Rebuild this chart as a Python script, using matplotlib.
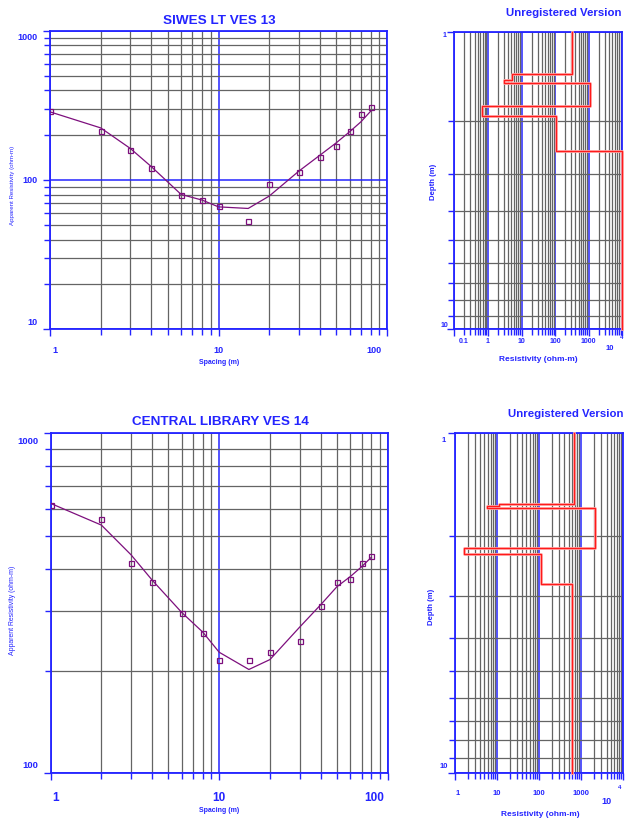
import numpy as np
import matplotlib
matplotlib.use("Agg")
import matplotlib.pyplot as plt
from matplotlib.ticker import LogLocator, NullFormatter
from matplotlib.transforms import blended_transform_factory, ScaledTranslation

# ---------------- data ----------------
spacing = [1, 2, 3, 4, 6, 8, 10, 15, 20, 30, 40, 50, 60, 70, 80]

ves13_obs = [290, 212, 160, 120, 80, 73.5, 67, 53, 94.5, 114, 143, 169, 213, 278, 308]
ves13_fit = [287, 224, 163, 123, 80.2, 73.5, 66.2, 64.6, 78.2, 115, 147, 178, 211, 246, 290]

ves14_obs = [615, 558, 415, 366, 296, 258, 215, 215, 227, 245, 310, 366, 374, 415, 437]
ves14_fit = [622, 537, 439, 370, 297, 260, 227, 202, 216, 269, 313, 354, 379, 405, 432]

# layered models (resistivity of each layer, depth of each layer bottom)
ves13_rho = [322, 5.2, 3.07, 1083, 0.69, 110, 10000]
ves13_depth = [1.39, 1.45, 1.49, 1.78, 1.92, 2.51]
ves14_rho = [657, 11.2, 5.78, 2115, 1.64, 113.7, 589]
ves14_depth = [1.61, 1.64, 1.66, 2.17, 2.26, 2.77]

titles = ["SIWES LT VES 13", "CENTRAL LIBRARY VES 14"]
side_title = "Unregistered Version"

curve_x_ticks = [1, 10, 100]
curve_x_labels = ["1", "10", "100"]
top_y_ticks = [10, 100, 1000]
top_y_labels = ["10", "100", "1000"]
bot_y_ticks = [100, 1000]
bot_y_labels = ["100", "1000"]

model1_x_ticks = [0.1, 1, 10, 100, 1000]
model1_x_labels = ["0.1", "1", "10", "100", "1000"]
model2_x_ticks = [1, 10, 100, 1000]
model2_x_labels = ["1", "10", "100", "1000"]
depth_ticks = [1, 10]
depth_labels = ["1", "10"]

# ---------------- style ----------------
W, H = 626, 821
BLUE = "#2424ff"
GRID = "#646464"
PURPLE = "#7d0f7d"
RED = "#ff1a1a"
PINK = "#ffa6a6"
FB = ["Liberation Sans", "DejaVu Sans"]

fig = plt.figure(figsize=(W / 100, H / 100), dpi=100)


def rect(l, t, r, b):
    return [l / W, 1 - b / H, (r - l) / W, (b - t) / H]


def setup(ax, xlim, ylim):
    ax.set_xscale("log")
    ax.set_yscale("log")
    ax.set_xlim(xlim)
    ax.set_ylim(ylim)
    for s in ax.spines.values():
        s.set_color(BLUE)
        s.set_linewidth(1.3)
    for axis in (ax.xaxis, ax.yaxis):
        axis.set_major_locator(LogLocator(base=10, numticks=30))
        axis.set_minor_locator(LogLocator(base=10, subs=np.arange(2, 10), numticks=60))
        axis.set_minor_formatter(NullFormatter())
    ax.tick_params(which="both", direction="out", color=BLUE, width=1,
                   labelbottom=False, labelleft=False)
    ax.tick_params(which="major", length=5)
    ax.tick_params(which="minor", length=4)
    ax.grid(which="minor", color=GRID, lw=0.9)
    ax.grid(which="major", color=BLUE, lw=1.1)
    ax.set_axisbelow(True)


def xlab(ax, vals, labels, dy, size, dxs=None, color=BLUE):
    tr = blended_transform_factory(ax.transData, ax.transAxes)
    for i, (v, s) in enumerate(zip(vals, labels)):
        dx = 0 if dxs is None else dxs[i]
        ax.text(v, 0, s, transform=tr + ScaledTranslation(dx / 100, -dy / 100, fig.dpi_scale_trans),
                ha="center", va="center", fontsize=size, fontweight="bold", color=color,
                family=FB, clip_on=False)


def ylab(ax, vals, labels, dx, size, dys=None, ha="right"):
    tr = blended_transform_factory(ax.transAxes, ax.transData)
    for i, (v, s) in enumerate(zip(vals, labels)):
        dy = 0 if dys is None else dys[i]
        ax.text(0, v, s, transform=tr + ScaledTranslation(-dx / 100, dy / 100, fig.dpi_scale_trans),
                ha=ha, va="center", fontsize=size, fontweight="bold", color=BLUE,
                family=FB, clip_on=False)


def ftext(x, y, s, **kw):
    fig.text(x / W, 1 - y / H, s, color=BLUE, family=FB, **kw)


def model_path(rho, depth, top, bottom):
    xs, ys = [rho[0]], [top]
    for i, d in enumerate(depth):
        xs += [rho[i], rho[i + 1]]
        ys += [d, d]
    xs.append(rho[-1])
    ys.append(bottom)
    return xs, ys


# ---------------- top-left: VES 13 curve ----------------
ax1 = fig.add_axes(rect(50, 31, 387, 329.3))
setup(ax1, (1, 100), (10, 1000))
ax1.plot(spacing, ves13_fit, color=PURPLE, lw=0.9, zorder=3)
ax1.plot(spacing, ves13_obs, ls="none", marker="s", ms=3.6, mfc="none", mec=PURPLE, mew=0.9, zorder=4)
xlab(ax1, curve_x_ticks, curve_x_labels, 21, 6.5, dxs=[5, 0, -13])
ylab(ax1, top_y_ticks, top_y_labels, 12, 6.5, dys=[7, 0, -6])
ftext(219.7, 21, titles[0], ha="center", va="center", fontsize=9.7, fontweight="bold")
ftext(13, 185, "Apparent Resistivity (ohm-m)", rotation=90, ha="center", va="center",
      fontsize=4.4)
ftext(219, 362, "Spacing (m)", ha="center", va="center", fontsize=5.0, fontweight="bold")

# ---------------- top-right: VES 13 model ----------------
ax2 = fig.add_axes(rect(454.3, 31.7, 622.3, 329.3))
setup(ax2, (0.1, 1e4), (10, 1))
mx, my = model_path(ves13_rho, ves13_depth, 1, 10)
ax2.plot(mx, my, color=PINK, lw=2.0, zorder=3, clip_on=False)
ax2.plot(mx, my, color=RED, lw=0.9, zorder=4, clip_on=False)
xlab(ax2, model1_x_ticks, model1_x_labels, 12.4, 5, dxs=[9, 0, 0, 0, 0])
xlab(ax2, [1e4], ["10"], 19, 5.5, dxs=[-12.5])
xlab(ax2, [1e4], ["4"], 8.5, 4.5, dxs=[-0.5])
ylab(ax2, depth_ticks, depth_labels, 9.5, 5, dys=[-3.5, 4], ha="center")
ftext(622, 13.3, side_title, ha="right", va="center", fontsize=8.2, fontweight="bold")
ftext(433.3, 181.7, "Depth (m)", rotation=90, ha="center", va="center",
      fontsize=5.6, fontweight="bold")
ftext(538.8, 359.3, "Resistivity (ohm-m)", ha="center", va="center",
      fontsize=6, fontweight="bold")

# ---------------- bottom-left: VES 14 curve ----------------
ax3 = fig.add_axes(rect(50.7, 433.3, 387.7, 773.3))
setup(ax3, (1, 100), (100, 1000))
ax3.plot(spacing, ves14_fit, color=PURPLE, lw=0.9, zorder=3)
ax3.plot(spacing, ves14_obs, ls="none", marker="s", ms=3.6, mfc="none", mec=PURPLE, mew=0.9, zorder=4)
xlab(ax3, curve_x_ticks, curve_x_labels, 25, 8.5, dxs=[4.5, 0, -14])
ylab(ax3, bot_y_ticks, bot_y_labels, 12.4, 6.8, dys=[8, -8])
ftext(220, 421.7, titles[1], ha="center", va="center", fontsize=9.7, fontweight="bold")
ftext(13, 610, "Apparent Resistivity (ohm-m)", rotation=90, ha="center", va="center",
      fontsize=4.95)
ftext(219, 810, "Spacing (m)", ha="center", va="center", fontsize=5.0, fontweight="bold")

# ---------------- bottom-right: VES 14 model ----------------
ax4 = fig.add_axes(rect(455, 433.3, 623.3, 773.3))
setup(ax4, (1, 1e4), (10, 1))
mx, my = model_path(ves14_rho, ves14_depth, 1, 10)
ax4.plot(mx, my, color=PINK, lw=2.0, zorder=3, clip_on=False)
ax4.plot(mx, my, color=RED, lw=0.9, zorder=4, clip_on=False)
xlab(ax4, model2_x_ticks, model2_x_labels, 20, 5.5, dxs=[3, 0, 0, 0])
xlab(ax4, [1e4], ["10"], 28.4, 6.5, dxs=[-16.6])
xlab(ax4, [1e4], ["4"], 14, 4.5, dxs=[-3.3])
ylab(ax4, depth_ticks, depth_labels, 11.5, 5.5, dys=[-6.7, 6.6], ha="center")
ftext(624, 414, side_title, ha="right", va="center", fontsize=8.2, fontweight="bold")
ftext(431.7, 606.7, "Depth (m)", rotation=90, ha="center", va="center",
      fontsize=5.6, fontweight="bold")
ftext(540, 814.3, "Resistivity (ohm-m)", ha="center", va="center",
      fontsize=6, fontweight="bold")

fig.savefig("out.png", dpi=100, facecolor="white")
